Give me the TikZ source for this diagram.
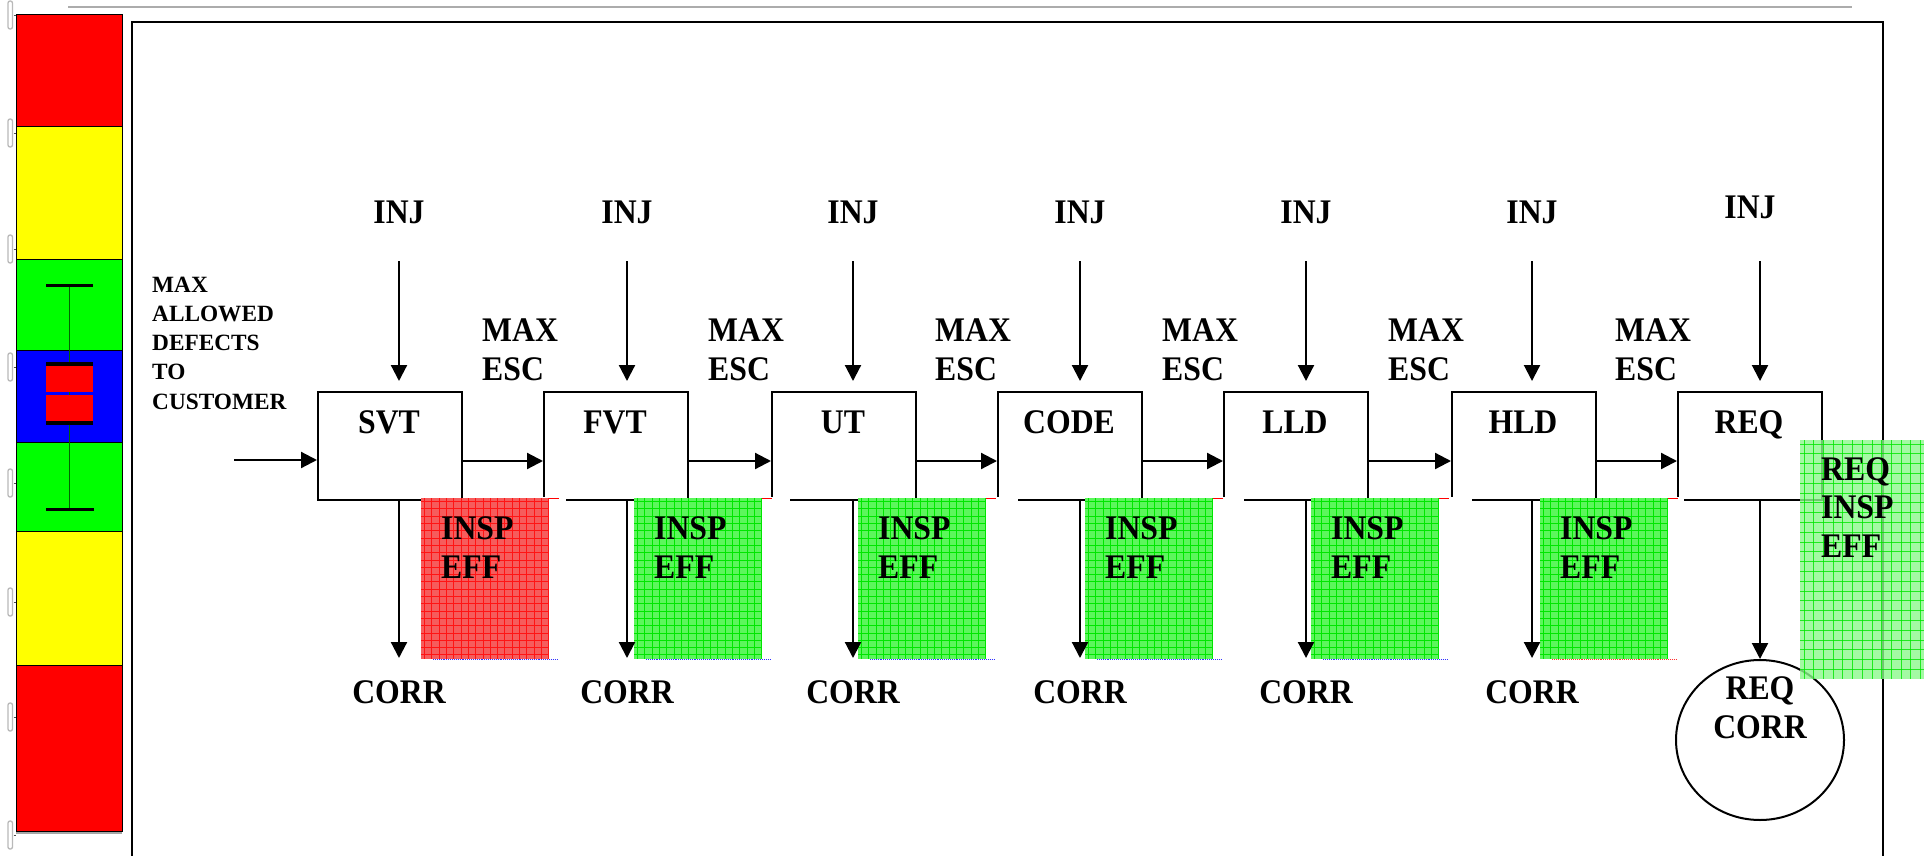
\documentclass[tikz,border=0pt]{standalone}
\usepackage{fontspec}
\setmainfont{Liberation Serif}
\newfontfamily\labelfont[FakeStretch=0.92]{Liberation Serif}
\usetikzlibrary{arrows.meta,shapes.geometric}
\definecolor{barred}{RGB}{255,0,0}
\definecolor{baryellow}{RGB}{255,255,0}
\definecolor{bargreen}{RGB}{0,255,0}
\definecolor{barblue}{RGB}{0,0,255}
\definecolor{gridgreen}{RGB}{0,230,0}
\definecolor{basegreen}{RGB}{92,246,92}
\definecolor{gridred}{RGB}{255,20,20}
\definecolor{basered}{RGB}{246,92,92}
\definecolor{reqgreen}{RGB}{140,248,140}
\begin{document}
\begin{tikzpicture}[x=1pt,y=-1pt,
  stagebox/.style={draw, line width=2pt, minimum width=144pt, minimum height=108pt,
                   anchor=north west, inner sep=0pt},
  big/.style={font=\labelfont\fontsize{34.5}{38.5}\selectfont\bfseries, inner sep=0pt},
  small/.style={font=\fontsize{23.3}{29.2}\selectfont\bfseries, inner sep=0pt, align=left},
  arr/.style={line width=2.2pt, -{Triangle[length=16pt,width=16pt]}},
  barseg/.style={draw=black, line width=0.6pt},
  cellline/.style={line width=0.8pt}]
\useasboundingbox (0,0) rectangle (1927,856);

% ---------- colour scale on the left ----------
\foreach \a/\b/\c in {14/126/barred,126/259/baryellow,259/350/bargreen,350/442/barblue,
                      442/531/bargreen,531/665/baryellow,665/831/barred}
  \filldraw[barseg, fill=\c] (16,\a) rectangle (122,\b);
\draw[gray!70, line width=1.2pt] (16,833) -- (122,833);
% box plot drawn on the scale
\draw[black!60!green, line width=0.8pt] (69,285) -- (69,509);
\draw[line width=3pt] (46,285) -- (93,285);
\draw[line width=3pt] (46,509) -- (94,509);
\fill[barred] (46,363) rectangle (93,392);
\fill[barred] (46,395) rectangle (93,423);
\fill (46,361.5) rectangle (93,365.5);
\fill (46,420.5) rectangle (93,424.5);
% axis ticks and their faded labels
\foreach \y in {15,133,249,367,483,602,717,835}{
  \draw[gray!55, line width=1.3pt, rounded corners=2pt] (8,\y-14) rectangle (12.5,\y+14);
  \draw[black!70, line width=0.8pt] (13.5,\y) -- (16,\y);
}

% ---------- header rule and frame ----------
\draw[gray!65, line width=2pt] (68,7.5) -- (1852,7.5);
\draw[line width=2.5pt] (132,856) -- (132,22) -- (1883,22) -- (1883,856);

% ---------- stages ----------
\foreach \i/\L/\ax/\name in {1/317/399/SVT,2/543/627/FVT,3/771/853/UT,4/997/1080/CODE,
                             5/1223/1306/LLD,6/1451/1532/HLD,7/1677/1760/REQ}{
  \node[stagebox] (b\i) at (\L,391) {};
  \node[big, anchor=base] (t\i) at (\L+72,433) {\name};
  \coordinate (ia\i) at (\ax,261);
  \draw[arr, shorten >=10pt] (ia\i) -- (ia\i |- b\i.north);
}
\node[big, anchor=base] (inj1) at (399,223) {INJ};
\node[big, anchor=base] (inj2) at (627,223) {INJ};
\node[big, anchor=base] (inj3) at (853,223) {INJ};
\node[big, anchor=base] (inj4) at (1080,223) {INJ};
\node[big, anchor=base] (inj5) at (1306,223) {INJ};
\node[big, anchor=base] (inj6) at (1532,223) {INJ};
\node[big, anchor=base] (inj7) at (1750,218) {INJ};

% flow between stages
\foreach \i/\j in {1/2,2/3,3/4,4/5,5/6,6/7}
  \draw[arr] ([yshift=-15pt]b\i.east) -- ([yshift=-15pt]b\j.west);
\foreach \i/\x in {1/482,2/708,3/935,4/1162,5/1388,6/1615}
  \node[big, anchor=base west, align=left] (esc\i) at (\x,380) {MAX\\ESC};

% customer input
\node[small, anchor=base west] (cust) at (152,409) {MAX\\ALLOWED\\DEFECTS\\TO\\CUSTOMER};
\coordinate (in) at (234,460);
\draw[arr] (in) -- (in -| b1.west);

% open lower-left corners of the later stage boxes
\foreach \L/\s in {543/566,771/790,997/1018,1223/1244,1451/1472,1677/1684}
  \fill[white] (\L-2,497.2) rectangle (\s,501.6);

% inspection-effectiveness panels
\foreach \k/\g/\col/\edge in {1/421/red/blue,2/634/green/blue,3/858/green/blue,
                              4/1085/green/blue,5/1311/green/blue,6/1540/green/red}{
  \fill[base\col] (\g,498) rectangle (\g+128,659);
  \foreach \n in {0,...,17}
    \draw[grid\col, cellline] (\g+3.5+7.3*\n,498) -- ++(0,161);
  \foreach \n in {0,...,21}
    \draw[grid\col, cellline] (\g,501.5+7.3*\n) -- ++(128,0);
  \draw[\edge!80, line width=0.9pt, densely dotted] (\g+12,659.6) -- (\g+136,659.6);
  \draw[red, line width=0.9pt] (\g+128,498) -- (\g+138,498);
  \node[big, anchor=base west, align=left] (ie\k) at (\g+20,578) {INSP\\EFF};
}

% corrections
\foreach \i/\ax in {1/399,2/627,3/853,4/1080,5/1306,6/1532}{
  \coordinate (ca\i) at (\ax,658);
  \draw[arr] (ca\i |- b\i.south) -- (ca\i);
  \node[big, anchor=base] (corr\i) at (\ax,703) {CORR};
}
\node[draw, ellipse, line width=2pt, minimum width=168pt, minimum height=160pt] (rc) at (1760,740) {};
\draw[arr] (ia7 |- b7.south) -- (rc.north);
\node[big, anchor=base, align=center] (rct) at (1760,738) {REQ\\CORR};

% requirements inspection panel
\begin{scope}[fill opacity=0.8, draw opacity=0.8]
  \fill[reqgreen] (1800,440) rectangle (1924,679);
  \foreach \n in {0,...,12}
    \draw[gridgreen, cellline] (1804+9.7*\n,440) -- ++(0,239);
  \foreach \n in {0,...,23}
    \draw[gridgreen, cellline] (1800,444+9.8*\n) -- ++(124,0);
\end{scope}
\node[big, anchor=base west, align=left] (rie) at (1821,557) {REQ\\INSP\\EFF};
\end{tikzpicture}
\end{document}
